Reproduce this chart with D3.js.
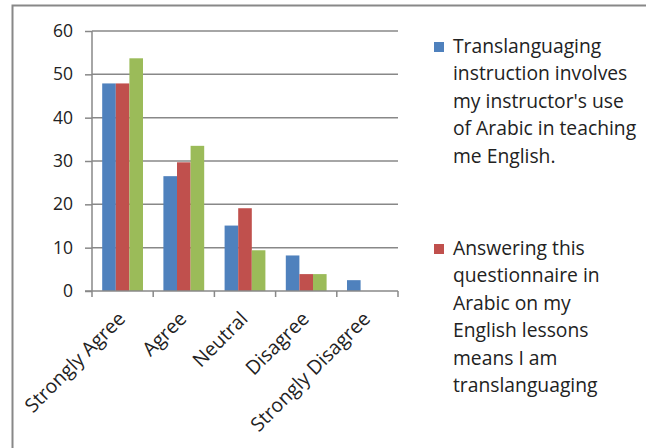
<!DOCTYPE html>
<html><head><meta charset="utf-8">
<script src="https://cdn.jsdelivr.net/npm/d3@7"></script>
<style>body{margin:0;background:#fff}svg{display:block}text{font-family:"Open Sans",Lato,sans-serif;fill:#222}</style>
</head><body>
<script>
const categories = ["Strongly Agree","Agree","Neutral","Disagree","Strongly Disagree"];
const seriesA = [47.9, 26.5, 15.1, 8.2, 2.5];
const seriesB = [47.9, 29.7, 19.1, 3.9, 0];
const seriesC = [53.7, 33.5, 9.4, 3.9, 0];
const yTicks = [0,10,20,30,40,50,60];
const legendA = ["Translanguaging","instruction involves","my instructor's use","of Arabic in teaching","me English."];
const legendB = ["Answering this","questionnaire in","Arabic on my","English lessons","means I am","translanguaging"];
const colors = ["#4f81bd","#c0504d","#9bbb59"];

const W=646,H=448;
const svg=d3.select("body").append("svg").attr("width",W).attr("height",H);
svg.append("path").attr("d","M12.5,448 L12.5,5.5 L646,5.5").attr("fill","none").attr("stroke","#888").attr("stroke-width",2);

const x0=92,x1=398,yTop=31,yBot=291;
const x=d3.scaleBand().domain(categories).range([x0,x1]).paddingInner(0).paddingOuter(0);
const y=d3.scaleLinear().domain([0,60]).range([yBot,yTop]);
const inner=d3.scaleBand().domain([0,1,2]).range([0,x.bandwidth()]).paddingInner(0).paddingOuter(0.75);

svg.append("g").selectAll("line").data(yTicks.filter(d=>d>0)).join("line")
 .attr("x1",x0).attr("x2",x1).attr("y1",d=>y(d)).attr("y2",d=>y(d))
 .attr("stroke","#888").attr("stroke-width",1.5);

const data=[seriesA,seriesB,seriesC];
data.forEach((s,si)=>{
  svg.append("g").selectAll("rect").data(s.map((v,i)=>({v,c:categories[i]})).filter(d=>d.v>0)).join("rect")
   .attr("x",d=>x(d.c)+inner(si)).attr("width",inner.bandwidth())
   .attr("y",d=>y(d.v)).attr("height",d=>yBot-y(d.v)).attr("fill",colors[si]);
});

const ya=svg.append("g").attr("transform",`translate(${x0},0)`).call(d3.axisLeft(y).tickValues(yTicks).tickSize(7).tickPadding(12));
ya.select(".domain").attr("stroke","#888").attr("stroke-width",1.5).attr("d",`M0,${yBot}V${yTop}`);
ya.selectAll(".tick line").attr("stroke","#888").attr("stroke-width",1.5);
ya.selectAll(".tick text").attr("font-size",17.5).attr("font-family","Open Sans").attr("fill","#222");

const xa=svg.append("g").attr("transform",`translate(0,${yBot})`);
xa.append("line").attr("x1",x0-7).attr("x2",x1).attr("stroke","#888").attr("stroke-width",1.5);
const bounds=[x0,...categories.map(c=>x(c)+x.bandwidth())];
xa.selectAll("line.t").data(bounds).join("line").attr("class","t")
 .attr("x1",d=>d).attr("x2",d=>d).attr("y1",0).attr("y2",6).attr("stroke","#888").attr("stroke-width",1.5);
xa.selectAll("text").data(categories).join("text")
 .attr("transform",d=>`translate(${x(d)+x.bandwidth()/2+4},${29}) rotate(-45)`)
 .attr("text-anchor","end").attr("font-size",19.5).text(d=>d);

function legend(lines,color,sy,ly){
  svg.append("rect").attr("x",434).attr("y",sy).attr("width",10).attr("height",10).attr("fill",color);
  svg.append("g").selectAll("text").data(lines).join("text")
   .attr("x",453).attr("y",(d,i)=>ly+i*27.4).attr("font-size",19.3).text(d=>d);
}
legend(legendA,colors[0],42,53);
legend(legendB,colors[1],244,255);
</script>
</body></html>
